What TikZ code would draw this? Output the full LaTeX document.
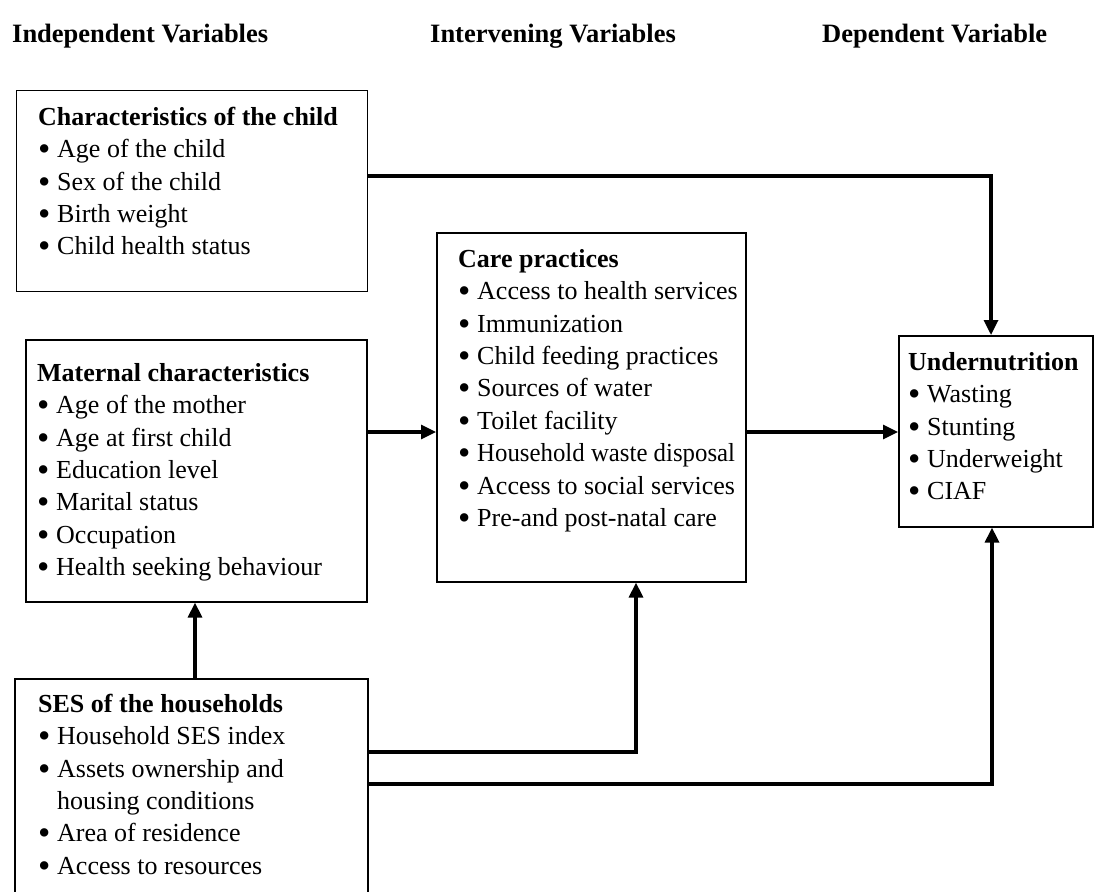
\documentclass[tikz,border=0pt]{standalone}
\usepackage{fontspec}
\setmainfont{Liberation Serif}
\usetikzlibrary{arrows.meta}
\tikzset{
  box/.style={draw, line width=1.6pt, anchor=north west, inner sep=0pt},
  txt/.style={anchor=north west, inner sep=0pt, align=left, font=\fontsize{26}{32.4}\selectfont},
  hdr/.style={anchor=base west, inner sep=0pt, font=\fontsize{26.5}{30}\selectfont\bfseries},
  arr/.style={line width=3.2pt, -{Triangle[length=15pt,width=14pt]}},
}
\newcommand{\itm}[1]{\makebox[19pt][l]{\raisebox{-0.11em}{\scalebox{1.35}{\textbullet}}}#1}
\begin{document}
\begin{tikzpicture}[x=1pt,y=-1pt]
\useasboundingbox (0,0) rectangle (1094,891);
% headers
\node[hdr] (h1) at (12,43) {Independent Variables};
\node[hdr] (h2) at (430,43) {Intervening Variables};
\node[hdr] (h3) at (822,43) {Dependent Variable};
% boxes
\node[box, minimum width=351pt, minimum height=201pt] (child) at (15.5,89.5) {};
\node[box, minimum width=341pt, minimum height=262pt] (mat) at (25,339) {};
\node[box, minimum width=309pt, minimum height=349pt] (care) at (436,232) {};
\node[box, minimum width=194pt, minimum height=191pt] (under) at (898,335) {};
\node[box, minimum width=353pt, minimum height=240pt] (ses) at (14,678) {};
% texts
\node[txt] (tchild) at (38,102.5) {\strut\textbf{Characteristics of the child}\\
\itm{Age of the child}\\ \itm{Sex of the child}\\ \itm{Birth weight}\\ \itm{Child health status}};
\node[txt] (tmat) at (37,358.5) {\strut\textbf{Maternal characteristics}\\
\itm{Age of the mother}\\ \itm{Age at first child}\\ \itm{Education level}\\ \itm{Marital status}\\ \itm{Occupation}\\ \itm{Health seeking behaviour}};
\node[txt] (tcare) at (458,244.5) {\strut\textbf{Care practices}\\
\itm{Access to health services}\\ \itm{Immunization}\\ \itm{Child feeding practices}\\ \itm{Sources of water}\\ \itm{Toilet facility}\\ \itm{\scalebox{0.955}[1]{Household waste disposal}}\\ \itm{Access to social services}\\ \itm{Pre-and post-natal care}};
\node[txt] (tunder) at (908,347.5) {\strut\textbf{Undernutrition}\\
\itm{Wasting}\\ \itm{Stunting}\\ \itm{Underweight}\\ \itm{CIAF}};
\node[txt] (tses) at (38,689.5) {\strut\textbf{SES of the households}\\
\itm{Household SES index}\\ \itm{Assets ownership and}\\ \hspace*{19pt}housing conditions\\ \itm{Area of residence}\\ \itm{Access to resources}};
% connector helper coordinates
\coordinate (r1) at (991,176);
\coordinate (mid) at (0,432);
\coordinate (r2) at (636,752);
\coordinate (r3) at (992,784);
\coordinate (up1) at (195,0);
% connectors
\draw[arr] (child.east |- r1) -- (r1) -- (r1 |- under.north);
\draw[arr] (mat.east |- mid) -- (care.west |- mid);
\draw[arr] (care.east |- mid) -- (under.west |- mid);
\draw[arr] (up1 |- ses.north) -- (up1 |- mat.south);
\draw[arr] (ses.east |- r2) -- (r2) -- (r2 |- care.south);
\draw[arr] (ses.east |- r3) -- (r3) -- (r3 |- under.south);
\end{tikzpicture}
\end{document}
